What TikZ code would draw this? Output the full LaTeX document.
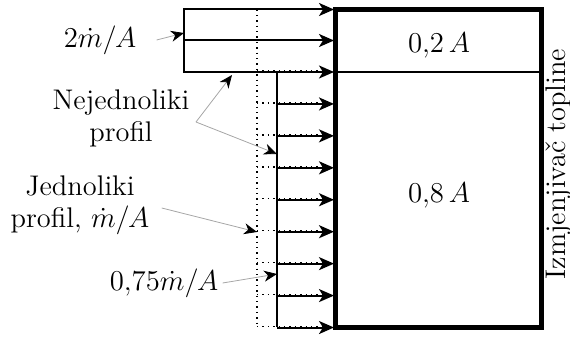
\documentclass[tikz,border=0pt]{standalone}
\usetikzlibrary{arrows.meta}
\begin{document}
\begin{tikzpicture}[x=0.5pt,y=-0.5pt,
  flow/.style={line width=1pt,-{Stealth[length=7.5pt,width=6.5pt,inset=2pt]}},
  edge/.style={line width=1pt},
  dots/.style={line width=0.7pt,dotted},
  txt/.style={font=\fontsize{14.2}{16}\selectfont,inner sep=0pt},
  lead/.style={draw=black!35,line width=0.4pt,-{Stealth[black,length=6.5pt,width=5.5pt,inset=2pt]}}]
\useasboundingbox (0,0) rectangle (570,337);
% uniform profile (dotted)
\draw[dots] (257,9.5) -- (257,327.5);
% upper non-uniform profile
\draw[edge,line cap=rect] (184,9.5) -- (184,72);
\foreach \y in {9.5,40.5,72}{
  \draw[flow] (184,\y) -- (334,\y);
}
% lower non-uniform profile
\draw[edge] (277,72) -- (277,327.5);
\foreach \k in {1,...,8}{
  \draw[flow] (277,72+31.94*\k) -- (334,72+31.94*\k);
}
\foreach \y in {9.5,40.5,72}{
  \draw[dots] (257,\y-1) -- (326,\y-1);
}
\foreach \k in {1,...,8}{
  \draw[dots] (257,72+31.94*\k-1) -- (326,72+31.94*\k-1);
}
% heat exchanger
\draw[line width=2.5pt] (336,9.5) rectangle (542,327.5);
\draw[line width=0.8pt] (336,72) -- (542,72);
\node[txt,anchor=base] (a2) at (439,53) {$0{,}2\,A$};
\node[txt,anchor=base] (a8) at (439,203) {$0{,}8\,A$};
\node[txt,rotate=90,anchor=base] (hx) at (565.5,164) {Izmjenjivač topline};
% labels
\coordinate (t1) at (184,33);
\coordinate (t2) at (232,75);
\coordinate (t3) at (277,154);
\coordinate (t4) at (257,232);
\coordinate (t5) at (277,274);
\node[txt] (m2) at (100,40) {$2\dot m/A$};
\draw[lead] ([xshift=10]m2.east) -- (t1);
\node[txt,align=center] (nj) at (121,118) {Nejednoliki\\profil};
\coordinate (njv) at (196,122);
\draw[lead] (njv) -- (t2);
\draw[lead] (njv) -- (t3);
\node[txt,align=center] (jp) at (80,205) {Jednoliki\\profil, $\dot m/A$};
\draw[lead] ([shift={(12,3)}]jp.east) -- (t4);
\node[txt] (m75) at (164,283) {$0{,}75\dot m/A$};
\draw[lead] ([xshift=2]m75.east) -- (t5);
\end{tikzpicture}
\end{document}
